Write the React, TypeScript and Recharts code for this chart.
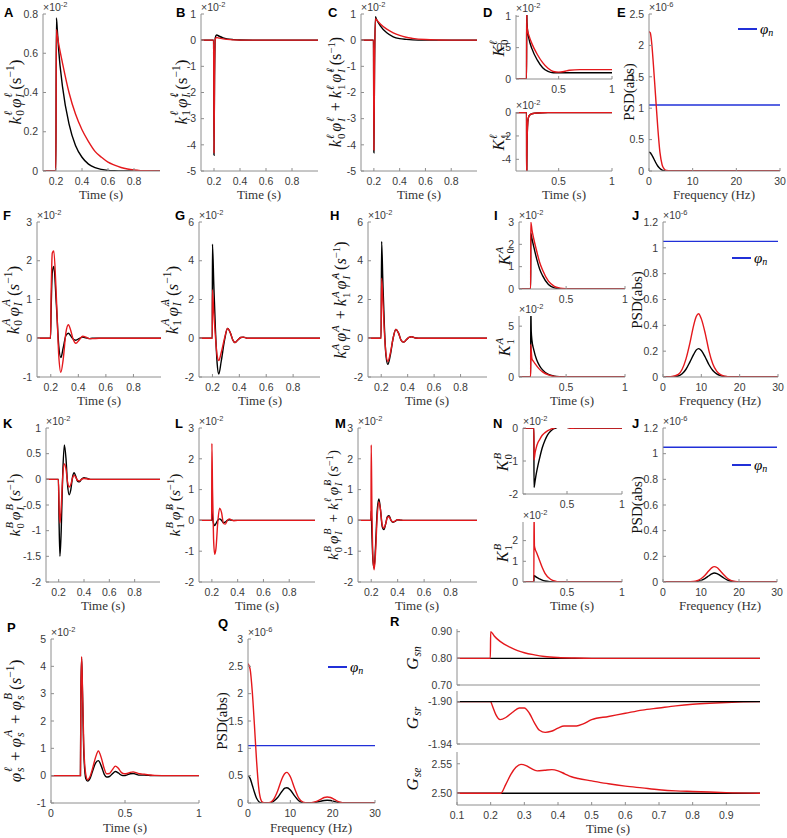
import React from 'react';
import { LineChart, Line, XAxis, YAxis } from 'recharts';

const BLACK = '#000000';
const RED = '#e4181c';
const BLUE = '#2130d8';
const FRAME = '#8e8e8e';
const TICK_TXT = '#3a3a3a';

// ---------- row 1 : l-pathway ----------
const tA = [0.1, 0.199, 0.203, 0.21, 0.22, 0.25, 0.3, 0.35, 0.4, 0.45, 0.5, 0.55, 0.6, 0.65, 0.7, 0.75, 0.8, 0.85, 0.9, 1.0];
const aBlack = [0, 0, 0.78, 0.72, 0.62, 0.43, 0.24, 0.13, 0.07, 0.035, 0.017, 0.008, 0.003, 0.001, 0, 0, 0, 0, 0, 0];
const aRed = [0, 0, 0.72, 0.69, 0.65, 0.55, 0.4, 0.29, 0.21, 0.15, 0.1, 0.07, 0.045, 0.03, 0.018, 0.01, 0.005, 0.002, 0.001, 0];

const tB = [0.1, 0.197, 0.2, 0.204, 0.21, 0.22, 0.24, 0.27, 0.3, 0.35, 0.4, 0.5, 1.0];
const bBlack = [0, 0, -4.4, -1.5, 0.1, 0.2, 0.15, 0.09, 0.05, 0.02, 0.005, 0, 0];
const bRed = [0, 0, -4.3, -1.4, 0.05, 0.1, 0.08, 0.05, 0.03, 0.01, 0.003, 0, 0];

const tC = [0.1, 0.197, 0.2, 0.205, 0.212, 0.22, 0.25, 0.3, 0.35, 0.4, 0.45, 0.5, 0.6, 0.7, 0.8, 1.0];
const cBlack = [0, 0, -4.3, -1, 0.9, 0.8, 0.55, 0.28, 0.13, 0.06, 0.03, 0.012, 0.002, 0, 0, 0];
const cRed = [0, 0, -4.2, -1, 0.82, 0.78, 0.62, 0.42, 0.28, 0.18, 0.11, 0.07, 0.025, 0.008, 0.002, 0];

const tD1 = [0.1, 0.199, 0.2, 0.203, 0.21, 0.22, 0.25, 0.3, 0.35, 0.4, 0.45, 0.5, 0.55, 0.6, 0.7, 0.8, 1.0];
const d1Black = [0, 0, 1.2, 0.9, 0.75, 0.65, 0.48, 0.3, 0.18, 0.12, 0.1, 0.1, 0.1, 0.1, 0.1, 0.1, 0.1];
const d1Red = [0, 0, 1.05, 0.85, 0.76, 0.7, 0.56, 0.39, 0.26, 0.17, 0.12, 0.11, 0.12, 0.14, 0.15, 0.15, 0.15];

const tD2 = [0.1, 0.199, 0.2, 0.203, 0.208, 0.215, 0.225, 0.25, 0.3, 0.4, 1.0];
const d2Black = [0, 0, -6, -3, -1.2, -0.5, -0.25, -0.1, -0.03, 0, 0];
const d2Red = [0, 0, -6, -3, -1.2, -0.5, -0.25, -0.1, -0.03, 0, 0];

const fE = [0, 0.3, 0.6, 1.0, 1.5, 2.0, 2.5, 3.0, 3.5, 4.0, 5.0, 10, 20, 30];
const eBlack = [0.3, 0.29, 0.26, 0.21, 0.14, 0.08, 0.04, 0.015, 0.005, 0.001, 0, 0, 0, 0];
const eRed = [2.22, 2.2, 2.05, 1.7, 1.2, 0.7, 0.3, 0.1, 0.03, 0.008, 0, 0, 0, 0];

// noise input level (phi_n), shared by all PSD panels
const fNoise = [0, 30];
const noise = [1.05, 1.05];

// ---------- row 2 : A-pathway ----------
const tF = [0.1, 0.198, 0.203, 0.211, 0.222, 0.24, 0.258, 0.273, 0.29, 0.31, 0.328, 0.345, 0.36, 0.382, 0.405, 0.43, 0.455, 0.48, 0.5, 0.55, 1.0];
const fBlack = [0, 0, 0.8, 1.7, 1.85, 0.9, -0.2, -0.5, -0.25, 0.07, 0.13, 0.06, -0.01, -0.05, -0.01, 0.03, 0.01, -0.01, 0, 0, 0];
const fRed = [0, 0, 1.2, 2.2, 2.25, 1.1, -0.45, -0.88, -0.55, 0.15, 0.35, 0.2, 0, -0.13, -0.05, 0.05, 0.03, -0.01, -0.01, 0, 0];

const tG = [0.1, 0.199, 0.2, 0.21, 0.222, 0.235, 0.247, 0.265, 0.29, 0.312, 0.335, 0.352, 0.368, 0.39, 0.41, 0.43, 0.46, 0.5, 1.0];
const gBlack = [0, 0, 4.85, 2.8, 0.5, -1.3, -1.85, -1.2, -0.1, 0.5, 0.25, -0.1, -0.22, -0.08, 0.04, 0.06, 0, 0, 0];
const gRed = [0, 0, 2.5, 1.3, 0.1, -0.9, -1.15, -0.75, 0, 0.5, 0.25, -0.1, -0.22, -0.08, 0.04, 0.06, 0, 0, 0];

const tH = [0.1, 0.199, 0.203, 0.212, 0.224, 0.236, 0.25, 0.268, 0.29, 0.31, 0.332, 0.35, 0.368, 0.39, 0.41, 0.43, 0.46, 0.5, 1.0];
const hBlack = [0, 0, 5.0, 3.0, 0.6, -0.9, -1.35, -0.9, 0, 0.45, 0.25, -0.1, -0.2, -0.08, 0.05, 0.08, 0.01, 0, 0];
const hRed = [0, 0, 3.1, 2.0, 0.3, -0.8, -1.2, -0.8, 0, 0.45, 0.25, -0.1, -0.2, -0.08, 0.05, 0.08, 0.01, 0, 0];

const tI1 = [0.1, 0.199, 0.2, 0.21, 0.225, 0.25, 0.275, 0.3, 0.35, 0.4, 0.45, 0.5, 0.55, 1.0];
const i1Black = [0, 0, 2.5, 2.25, 1.9, 1.35, 0.9, 0.6, 0.2, 0.05, 0.01, 0, 0, 0];
const i1Red = [0, 0, 3.0, 2.65, 2.25, 1.7, 1.2, 0.85, 0.35, 0.12, 0.04, 0.01, 0, 0];

const tI2 = [0.1, 0.199, 0.2, 0.204, 0.21, 0.225, 0.25, 0.275, 0.3, 0.35, 0.4, 0.45, 0.5, 1.0];
const i2Black = [0, 0, 7, 4.5, 3.6, 2.7, 1.7, 1.1, 0.7, 0.25, 0.08, 0.02, 0, 0];
const i2Red = [0, 0, 3.2, 2.6, 1.8, 1.5, 1.1, 0.75, 0.5, 0.2, 0.06, 0.015, 0, 0];

const fJ = [0, 2, 4, 5, 6, 7, 8, 8.7, 9.3, 10, 11, 12, 13, 14, 15, 16, 18, 20, 30];
const jBlack = [0, 0.001, 0.008, 0.025, 0.06, 0.115, 0.175, 0.21, 0.22, 0.205, 0.155, 0.095, 0.05, 0.024, 0.011, 0.005, 0.001, 0, 0];
const jRed = [0, 0.002, 0.02, 0.06, 0.14, 0.26, 0.4, 0.47, 0.49, 0.45, 0.34, 0.2, 0.1, 0.045, 0.018, 0.007, 0.001, 0, 0];

// ---------- row 3 : B-pathway ----------
const tK = [0.1, 0.198, 0.203, 0.21, 0.22, 0.232, 0.245, 0.258, 0.27, 0.283, 0.296, 0.31, 0.322, 0.335, 0.35, 0.365, 0.38, 0.4, 0.42, 0.45, 0.5, 1.0];
const kBlack = [0, 0, -0.8, -1.5, -1.0, 0.1, 0.67, 0.4, -0.1, -0.3, -0.2, 0.05, 0.13, 0.06, -0.04, -0.05, 0, 0.03, 0.02, 0, 0, 0];
const kRed = [0, 0, -0.5, -0.85, -0.55, 0.05, 0.3, 0.2, -0.05, -0.15, -0.1, 0.03, 0.08, 0.04, -0.02, -0.03, 0, 0.015, 0.01, 0, 0, 0];

const tL = [0.1, 0.198, 0.2, 0.205, 0.213, 0.222, 0.232, 0.245, 0.26, 0.275, 0.29, 0.305, 0.32, 0.335, 0.35, 0.37, 0.4, 0.45, 1.0];
const lBlack = [0, 0, 0.3, 0.1, -0.1, -0.17, -0.1, 0, 0.05, 0, -0.08, -0.05, 0, 0.02, 0.01, 0, 0, 0, 0];
const lRed = [0, 0, 2.5, 1.0, -0.6, -1.1, -0.9, -0.1, 0.4, 0.25, -0.1, -0.12, 0, 0.05, 0.02, -0.01, 0, 0, 0];

const tM = [0.1, 0.198, 0.2, 0.205, 0.213, 0.222, 0.232, 0.245, 0.258, 0.27, 0.283, 0.296, 0.31, 0.322, 0.335, 0.35, 0.365, 0.38, 0.4, 0.42, 0.45, 1.0];
const mBlack = [0, 0, 0.3, -0.4, -1.3, -1.55, -0.9, 0.3, 0.7, 0.35, -0.2, -0.3, -0.1, 0.12, 0.15, 0, -0.06, -0.03, 0.02, 0.01, 0, 0];
const mRed = [0, 0, 2.45, 0.5, -1.2, -1.6, -1.1, 0.1, 0.6, 0.35, -0.15, -0.25, -0.1, 0.1, 0.12, 0, -0.05, -0.02, 0.02, 0.01, 0, 0];

const tN1 = [0.1, 0.199, 0.2, 0.21, 0.22, 0.235, 0.25, 0.275, 0.3, 0.325, 0.35, 0.375, 0.4, 0.43, 0.46, 0.5, 0.55, 0.6, 1.0];
const n1Black = [0, 0, -1.8, -1.6, -1.4, -1.15, -0.93, -0.6, -0.37, -0.2, -0.1, -0.03, 0, 0.04, 0.04, 0.02, -0.01, 0, 0];
const n1Red = [0, 0, -0.97, -0.75, -0.6, -0.45, -0.36, -0.22, -0.14, -0.08, -0.04, -0.01, 0.02, 0.04, 0.04, 0.02, -0.01, 0, 0];

const tN2 = [0.1, 0.199, 0.2, 0.204, 0.21, 0.225, 0.25, 0.275, 0.3, 0.35, 0.4, 0.45, 1.0];
const n2Black = [0, 0, 0.32, 0.3, 0.28, 0.22, 0.15, 0.09, 0.05, 0.015, 0.003, 0, 0];
const n2Red = [0, 0, 3.5, 1.75, 1.6, 1.4, 1.05, 0.7, 0.42, 0.13, 0.03, 0, 0];

const fJ2 = [0, 5, 8, 9, 10, 11, 12, 12.8, 13.5, 14.2, 15, 16, 17, 18, 19, 20, 22, 30];
const j2Black = [0, 0, 0.002, 0.005, 0.013, 0.027, 0.047, 0.063, 0.07, 0.066, 0.052, 0.031, 0.015, 0.006, 0.002, 0.001, 0, 0];
const j2Red = [0, 0, 0.004, 0.01, 0.025, 0.05, 0.085, 0.11, 0.12, 0.113, 0.09, 0.056, 0.027, 0.011, 0.004, 0.001, 0, 0];

// ---------- row 4 : total, PSD, gains ----------
const tP = [0, 0.199, 0.202, 0.207, 0.213, 0.222, 0.235, 0.248, 0.262, 0.28, 0.3, 0.32, 0.34, 0.36, 0.375, 0.395, 0.415, 0.435, 0.455, 0.475, 0.495, 0.515, 0.535, 0.555, 0.575, 0.6, 0.63, 0.66, 0.7, 0.8, 1.0];
const pBlack = [0, 0, 3.0, 4.3, 3.0, 0.8, -0.1, -0.2, -0.12, 0.15, 0.45, 0.55, 0.35, 0.05, -0.05, -0.03, 0.07, 0.15, 0.1, 0.02, 0, 0.03, 0.07, 0.08, 0.05, 0.02, 0.02, 0.01, 0, 0, 0];
const pRed = [0, 0, 3.0, 4.35, 3.1, 1.0, 0.05, -0.15, -0.05, 0.25, 0.65, 0.9, 0.65, 0.25, 0.07, 0.08, 0.22, 0.35, 0.27, 0.12, 0.07, 0.08, 0.12, 0.14, 0.11, 0.07, 0.05, 0.03, 0.01, 0, 0];

const fQ = [0, 0.5, 1, 1.5, 2, 2.5, 3, 3.5, 4, 5, 6, 7, 8, 8.7, 9.2, 10, 11, 12, 13, 14, 15, 16, 17, 18, 18.7, 19.5, 20.5, 21.5, 23, 30];
const qBlack = [0.5, 0.45, 0.33, 0.2, 0.09, 0.03, 0.005, 0, 0, 0, 0.03, 0.1, 0.21, 0.27, 0.28, 0.24, 0.13, 0.04, 0.005, 0, 0.003, 0.012, 0.03, 0.045, 0.05, 0.045, 0.025, 0.008, 0, 0];
const qRed = [2.55, 2.45, 2.05, 1.45, 0.8, 0.3, 0.07, 0.01, 0, 0.005, 0.06, 0.22, 0.44, 0.54, 0.56, 0.48, 0.27, 0.09, 0.015, 0, 0.006, 0.025, 0.06, 0.1, 0.11, 0.1, 0.06, 0.02, 0, 0];

const tFlat = [0.1, 1.0];
const gsnBase = [0.8, 0.8];
const gsrBase = [-1.9, -1.9];
const gseBase = [2.5, 2.5];

const tR1 = [0.1, 0.199, 0.2, 0.21, 0.22, 0.24, 0.26, 0.28, 0.3, 0.33, 0.36, 0.4, 0.45, 0.5, 1.0];
const gsn = [0.8, 0.8, 0.9, 0.885, 0.872, 0.853, 0.84, 0.829, 0.821, 0.813, 0.807, 0.803, 0.801, 0.8, 0.8];

const tR2 = [0.1, 0.2, 0.205, 0.215, 0.228, 0.245, 0.265, 0.285, 0.3, 0.315, 0.33, 0.345, 0.362, 0.38, 0.4, 0.418, 0.435, 0.455, 0.475, 0.5, 0.55, 0.6, 0.65, 0.7, 0.75, 0.8, 0.85, 0.9, 0.95, 1.0];
const gsr = [-1.9, -1.9, -1.904, -1.912, -1.917, -1.915, -1.91, -1.906, -1.906, -1.911, -1.92, -1.927, -1.929, -1.928, -1.925, -1.923, -1.923, -1.923, -1.921, -1.917, -1.914, -1.911, -1.908, -1.906, -1.904, -1.9025, -1.9015, -1.9008, -1.9003, -1.9];

const tR3 = [0.1, 0.23, 0.245, 0.26, 0.275, 0.29, 0.305, 0.32, 0.338, 0.36, 0.382, 0.4, 0.42, 0.44, 0.46, 0.5, 0.55, 0.6, 0.65, 0.7, 0.75, 0.8, 0.85, 0.9, 1.0];
const gse = [2.5, 2.5, 2.515, 2.532, 2.544, 2.549, 2.547, 2.542, 2.538, 2.539, 2.54, 2.538, 2.533, 2.528, 2.525, 2.521, 2.516, 2.512, 2.509, 2.506, 2.504, 2.503, 2.502, 2.501, 2.5];

// tick sets
const timeTicks = [0.2, 0.4, 0.6, 0.8];
const timeTicksSmall = [0.5, 1];
const freqTicks = [0, 10, 20, 30];
const rTimeTicks = [0.1, 0.2, 0.3, 0.4, 0.5, 0.6, 0.7, 0.8, 0.9];

type Series = { xs: number[]; ys: number[]; color: string };
const pts = (xs: number[], ys: number[]) => xs.map((x, i) => ({ x, y: ys[i] }));
const pair = (xs: number[], blk: number[], red: number[]): Series[] => [
  { xs, ys: blk, color: BLACK },
  { xs, ys: red, color: RED },
];

type PanelProps = {
  left: number; top: number; w: number; h: number;
  xDomain: [number, number]; xTicks: number[];
  yDomain: [number, number]; yTicks: number[];
  series: Series[];
  xLabels?: boolean; fmt?: (v: number) => string; padB?: number;
};

const tickFont = { fontSize: 10.5, fill: TICK_TXT, fontFamily: '"Liberation Sans", Arial, sans-serif' };

function Panel({ left, top, w, h, xDomain, xTicks, yDomain, yTicks, series, xLabels = true, fmt = (v) => String(v), padB = 22 }: PanelProps) {
  const padL = 40, padT = 6, padR = 12;
  return (
    <div style={{ position: 'absolute', left: left - padL, top: top - padT }}>
      <LineChart width={w + padL + padR} height={h + padT + padB} margin={{ top: padT, right: padR, bottom: 0, left: 0 }}>
        <XAxis xAxisId="b" type="number" dataKey="x" domain={xDomain} ticks={xTicks} allowDataOverflow interval={0}
          height={padB} stroke={FRAME} tickSize={-3} tickMargin={10} tick={xLabels ? tickFont : false} tickFormatter={(v) => String(v)} />
        <XAxis xAxisId="t" orientation="top" type="number" dataKey="x" domain={xDomain} ticks={xTicks} allowDataOverflow interval={0}
          height={0} stroke={FRAME} tickSize={-3} tick={false} />
        <YAxis yAxisId="l" type="number" domain={yDomain} ticks={yTicks} allowDataOverflow interval={0}
          width={padL} stroke={FRAME} tickSize={-3} tickMargin={8} tick={tickFont} tickFormatter={fmt} />
        <YAxis yAxisId="r" orientation="right" type="number" domain={yDomain} ticks={yTicks} allowDataOverflow interval={0}
          width={0} stroke={FRAME} tickSize={-3} tick={false} />
        {series.map((s, i) => (
          <Line key={i} xAxisId="b" yAxisId="l" data={pts(s.xs, s.ys)} dataKey="y" type="monotone"
            stroke={s.color} strokeWidth={1.4} dot={false} activeDot={false} isAnimationActive={false} />
        ))}
      </LineChart>
    </div>
  );
}

// ---------- text helpers ----------
const SERIF = '"Liberation Serif", "DejaVu Serif", serif';
const SANS = '"Liberation Sans", Arial, sans-serif';

function T({ b, sub, sup, dot }: { b: string; sub?: string; sup?: string; dot?: boolean }) {
  const st = (s?: string): React.CSSProperties => ({
    fontStyle: s && /^[0-9]$/.test(s) ? 'normal' : 'italic', height: '1.05em', display: 'block',
  });
  return (
    <span style={{ display: 'inline-flex', alignItems: 'center', marginRight: 2 }}>
      <span style={{ fontStyle: 'italic' }}>{b}{dot ? '\u0307' : ''}</span>
      <span style={{ display: 'inline-flex', flexDirection: 'column', fontSize: '0.68em', lineHeight: 1.05, marginLeft: 1 }}>
        {sup ? <span style={st(sup)}>{sup}</span> : <span style={st()} />}
        {sub ? <span style={st(sub)}>{sub}</span> : <span style={st()} />}
      </span>
    </span>
  );
}

const Inv = ({ ital }: { ital?: boolean }) => (
  <span style={{ marginLeft: 1 }}>(<span style={{ fontStyle: ital ? 'italic' : 'normal' }}>s</span><span style={{ fontSize: '0.68em', position: 'relative', top: '-0.55em' }}>−1</span>)</span>
);
const Plus = () => <span style={{ margin: '0 4px' }}>+</span>;

function YL({ cx, cy, size = 16, children }: { cx: number; cy: number; size?: number; children: React.ReactNode }) {
  return (
    <div style={{ position: 'absolute', left: cx, top: cy, transform: 'translate(-50%, -50%) rotate(-90deg)', whiteSpace: 'nowrap',
      fontFamily: SERIF, fontSize: size, color: '#111', display: 'flex', alignItems: 'center', lineHeight: 1 }}>
      {children}
    </div>
  );
}

function XL({ cx, cy, text }: { cx: number; cy: number; text: string }) {
  return (
    <div style={{ position: 'absolute', left: cx, top: cy, transform: 'translate(-50%, -50%)', whiteSpace: 'nowrap',
      fontFamily: SERIF, fontWeight: 'normal', fontSize: 13, lineHeight: '12px', color: '#333' }}>{text}</div>
  );
}

function Letter({ x, y, c }: { x: number; y: number; c: string }) {
  return <div style={{ position: 'absolute', left: x, top: y, fontFamily: SANS, fontWeight: 'bold', fontSize: 13, lineHeight: '13px', color: '#000' }}>{c}</div>;
}

function Exp({ x, y, e }: { x: number; y: number; e: string }) {
  return (
    <div style={{ position: 'absolute', left: x, top: y - 13, fontFamily: SANS, fontSize: 10.5, lineHeight: '12px', color: TICK_TXT, whiteSpace: 'nowrap' }}>
      ×10<span style={{ fontSize: 7.5, position: 'relative', top: -4 }}>{e}</span>
    </div>
  );
}

function Legend({ x, y }: { x: number; y: number }) {
  return (
    <div style={{ position: 'absolute', left: x, top: y - 9, height: 18, display: 'flex', alignItems: 'center', fontFamily: SERIF, fontSize: 15 }}>
      <span style={{ display: 'inline-block', width: 19, height: 1.5, background: BLUE, marginRight: 3 }} />
      <span style={{ fontStyle: 'italic' }}>φ</span>
      <span style={{ fontStyle: 'italic', fontSize: 10, position: 'relative', top: 3 }}>n</span>
    </div>
  );
}

const fmt2 = (v: number) => v.toFixed(2);
const psdSeries = (f: number[], blk: number[], red: number[]): Series[] => [
  { xs: fNoise, ys: noise, color: BLUE },
  { xs: f, ys: blk, color: BLACK },
  { xs: f, ys: red, color: RED },
];

export default function App() {
  const tD: [number, number] = [0.1, 1];
  const fD: [number, number] = [0, 30];
  return (
    <div style={{ position: 'absolute', left: 0, top: 0, width: 787, height: 838, background: '#fff', overflow: 'hidden' }}>
      {/* row 1 */}
      <Panel left={43} top={14} w={117} h={157} xDomain={tD} xTicks={timeTicks} yDomain={[0, 0.8]} yTicks={[0, 0.2, 0.4, 0.6, 0.8]} series={pair(tA, aBlack, aRed)} />
      <Panel left={201} top={14} w={117} h={157} xDomain={tD} xTicks={timeTicks} yDomain={[-5, 1]} yTicks={[-5, -4, -3, -2, -1, 0, 1]} series={pair(tB, bBlack, bRed)} />
      <Panel left={361} top={14} w={116} h={157} xDomain={tD} xTicks={timeTicks} yDomain={[-5, 1]} yTicks={[-5, -4, -3, -2, -1, 0, 1]} series={pair(tC, cBlack, cRed)} />
      <Panel left={516} top={15} w={96} h={64} xDomain={tD} xTicks={timeTicksSmall} yDomain={[0, 1.02]} yTicks={[0, 0.5, 1]} series={pair(tD1, d1Black, d1Red)} />
      <Panel left={516} top={112} w={96} h={59} xDomain={tD} xTicks={timeTicksSmall} yDomain={[-5, 0.05]} yTicks={[-4, -2, 0]} series={pair(tD2, d2Black, d2Red)} />
      <Panel left={649} top={14} w={131} h={157} xDomain={fD} xTicks={freqTicks} yDomain={[0, 2.5]} yTicks={[0, 0.5, 1, 1.5, 2, 2.5]} series={psdSeries(fE, eBlack, eRed)} />

      {/* row 2 */}
      <Panel left={37} top={222} w={124} h={155} xDomain={tD} xTicks={timeTicks} yDomain={[-1, 3]} yTicks={[-1, 0, 1, 2, 3]} series={pair(tF, fBlack, fRed)} />
      <Panel left={199} top={222} w={121} h={155} xDomain={tD} xTicks={timeTicks} yDomain={[-2, 6]} yTicks={[-2, 0, 2, 4, 6]} series={pair(tG, gBlack, gRed)} />
      <Panel left={368} top={222} w={119} h={155} xDomain={tD} xTicks={timeTicks} yDomain={[-2, 6]} yTicks={[-2, 0, 2, 4, 6]} series={pair(tH, hBlack, hRed)} />
      <Panel left={519} top={222} w={106} h={67} xDomain={tD} xTicks={timeTicksSmall} yDomain={[0, 3]} yTicks={[0, 1, 2, 3]} series={pair(tI1, i1Black, i1Red)} />
      <Panel left={519} top={316} w={106} h={61} xDomain={tD} xTicks={timeTicksSmall} yDomain={[0, 6]} yTicks={[0, 5]} series={pair(tI2, i2Black, i2Red)} />
      <Panel left={663} top={222} w={115} h={155} xDomain={fD} xTicks={freqTicks} yDomain={[0, 1.2]} yTicks={[0, 0.2, 0.4, 0.6, 0.8, 1, 1.2]} series={psdSeries(fJ, jBlack, jRed)} />

      {/* row 3 */}
      <Panel left={46} top={428} w={114} h={154} xDomain={tD} xTicks={timeTicks} yDomain={[-2, 1]} yTicks={[-2, -1.5, -1, -0.5, 0, 0.5, 1]} series={pair(tK, kBlack, kRed)} />
      <Panel left={199} top={428} w={116} h={154} xDomain={tD} xTicks={timeTicks} yDomain={[-2, 3]} yTicks={[-2, -1, 0, 1, 2, 3]} series={pair(tL, lBlack, lRed)} />
      <Panel left={358} top={428} w={119} h={154} xDomain={tD} xTicks={timeTicks} yDomain={[-2, 3]} yTicks={[-2, -1, 0, 1, 2, 3]} series={pair(tM, mBlack, mRed)} />
      <Panel left={523} top={428} w={99} h={66} xDomain={tD} xTicks={timeTicksSmall} yDomain={[-2, 0]} yTicks={[-2, -1, 0]} series={pair(tN1, n1Black, n1Red)} />
      <Panel left={523} top={522} w={99} h={60} xDomain={tD} xTicks={timeTicksSmall} yDomain={[0, 2.9]} yTicks={[0, 1, 2]} series={pair(tN2, n2Black, n2Red)} />
      <Panel left={663} top={428} w={114} h={154} xDomain={fD} xTicks={freqTicks} yDomain={[0, 1.2]} yTicks={[0, 0.2, 0.4, 0.6, 0.8, 1, 1.2]} series={psdSeries(fJ2, j2Black, j2Red)} />

      {/* row 4 */}
      <Panel left={51} top={639} w={148} h={164} xDomain={[0, 1]} xTicks={[0, 0.5, 1]} yDomain={[-1, 5]} yTicks={[-1, 0, 1, 2, 3, 4, 5]} series={pair(tP, pBlack, pRed)} />
      <Panel left={248} top={639} w={127} h={164} xDomain={fD} xTicks={freqTicks} yDomain={[0, 3]} yTicks={[0, 0.5, 1, 1.5, 2, 2.5, 3]} series={psdSeries(fQ, qBlack, qRed)} />
      <Panel left={457} top={629} w={303} h={56} xDomain={tD} xTicks={rTimeTicks} yDomain={[0.7, 0.91]} yTicks={[0.7, 0.8, 0.9]} fmt={fmt2} xLabels={false} padB={8}
        series={[{ xs: tFlat, ys: gsnBase, color: BLACK }, { xs: tR1, ys: gsn, color: RED }]} />
      <Panel left={457} top={691} w={303} h={53} xDomain={tD} xTicks={rTimeTicks} yDomain={[-1.94, -1.89]} yTicks={[-1.94, -1.9]} fmt={fmt2} xLabels={false} padB={8}
        series={[{ xs: tR2, ys: gsr, color: RED }, { xs: tFlat, ys: gsrBase, color: BLACK }]} />
      <Panel left={457} top={752} w={303} h={53} xDomain={tD} xTicks={rTimeTicks} yDomain={[2.48, 2.57]} yTicks={[2.5, 2.55]} fmt={fmt2}
        series={[{ xs: tFlat, ys: gseBase, color: BLACK }, { xs: tR3, ys: gse, color: RED }]} />

      {/* panel letters */}
      <Letter x={4} y={6} c="A" /><Letter x={176} y={6} c="B" /><Letter x={328} y={6} c="C" /><Letter x={483} y={6} c="D" /><Letter x={617} y={6} c="E" />
      <Letter x={3} y={209} c="F" /><Letter x={175} y={209} c="G" /><Letter x={330} y={209} c="H" /><Letter x={494} y={209} c="I" /><Letter x={632} y={209} c="J" />
      <Letter x={3} y={417} c="K" /><Letter x={175} y={417} c="L" /><Letter x={335} y={417} c="M" /><Letter x={493} y={417} c="N" /><Letter x={632} y={417} c="J" />
      <Letter x={7} y={621} c="P" /><Letter x={218} y={617} c="Q" /><Letter x={390} y={615} c="R" />

      {/* exponent notes */}
      <Exp x={43} y={14} e="-2" /><Exp x={201} y={14} e="-2" /><Exp x={361} y={14} e="-2" /><Exp x={516} y={15} e="-2" /><Exp x={516} y={112} e="-2" /><Exp x={649} y={14} e="-6" />
      <Exp x={37} y={222} e="-2" /><Exp x={199} y={222} e="-2" /><Exp x={368} y={222} e="-2" /><Exp x={519} y={222} e="-2" /><Exp x={519} y={316} e="-2" /><Exp x={663} y={222} e="-6" />
      <Exp x={46} y={428} e="-2" /><Exp x={199} y={428} e="-2" /><Exp x={358} y={428} e="-2" /><Exp x={523} y={428} e="-2" /><Exp x={523} y={522} e="-2" /><Exp x={663} y={428} e="-6" />
      <Exp x={51} y={639} e="-2" /><Exp x={248} y={639} e="-6" />

      {/* legends */}
      <Legend x={738} y={29} /><Legend x={732} y={258} /><Legend x={732} y={465} /><Legend x={328} y={667} />

      {/* x titles */}
      <XL cx={101} cy={195} text="Time (s)" /><XL cx={259} cy={195} text="Time (s)" /><XL cx={419} cy={195} text="Time (s)" /><XL cx={564} cy={195} text="Time (s)" /><XL cx={714} cy={195} text="Frequency (Hz)" />
      <XL cx={99} cy={401} text="Time (s)" /><XL cx={260} cy={401} text="Time (s)" /><XL cx={427} cy={401} text="Time (s)" /><XL cx={572} cy={401} text="Time (s)" /><XL cx={720} cy={401} text="Frequency (Hz)" />
      <XL cx={103} cy={606} text="Time (s)" /><XL cx={257} cy={606} text="Time (s)" /><XL cx={417} cy={606} text="Time (s)" /><XL cx={572} cy={606} text="Time (s)" /><XL cx={720} cy={606} text="Frequency (Hz)" />
      <XL cx={125} cy={828} text="Time (s)" /><XL cx={311} cy={828} text="Frequency (Hz)" /><XL cx={608} cy={829} text="Time (s)" />

      {/* y titles */}
      <YL cx={15} cy={92} size={17}><T b="k" sub="0" sup="ℓ" /><T b="φ" sub="I" sup="ℓ" /><Inv /></YL>
      <YL cx={181} cy={92} size={17}><T b="k" sub="1" sup="ℓ" /><T b="φ" sub="I" sup="ℓ" dot /><Inv /></YL>
      <YL cx={336} cy={92}><T b="k" sub="0" sup="ℓ" /><T b="φ" sub="I" sup="ℓ" /><Plus /><T b="k" sub="1" sup="ℓ" /><T b="φ" sub="I" sup="ℓ" dot /><Inv /></YL>
      <YL cx={499} cy={47}><T b="K" sub="0" sup="ℓ" /></YL>
      <YL cx={499} cy={141}><T b="K" sub="1" sup="ℓ" /></YL>
      <YL cx={629} cy={92} size={15}>PSD(abs)</YL>

      <YL cx={13} cy={300} size={17}><T b="k" sub="0" sup="A" /><T b="φ" sub="I" sup="A" /><Inv ital /></YL>
      <YL cx={172} cy={300} size={17}><T b="k" sub="1" sup="A" /><T b="φ" sub="I" sup="A" dot /><Inv ital /></YL>
      <YL cx={341} cy={300}><T b="k" sub="0" sup="A" /><T b="φ" sub="I" sup="A" /><Plus /><T b="k" sub="1" sup="A" /><T b="φ" sub="I" sup="A" dot /><Inv ital /></YL>
      <YL cx={505} cy={255}><T b="K" sub="0" sup="A" /></YL>
      <YL cx={505} cy={346}><T b="K" sub="1" sup="A" /></YL>
      <YL cx={637} cy={300} size={15}>PSD(abs)</YL>

      <YL cx={15} cy={505} size={15.5}><T b="k" sub="0" sup="B" /><T b="φ" sub="I" sup="B" /><Inv ital /></YL>
      <YL cx={175} cy={505} size={15.5}><T b="k" sub="1" sup="B" /><T b="φ" sub="I" sup="B" dot /><Inv ital /></YL>
      <YL cx={334} cy={505} size={15}><T b="k" sub="0" sup="B" /><T b="φ" sub="I" sup="B" /><Plus /><T b="k" sub="1" sup="ℓ" /><T b="φ" sub="I" sup="B" dot /><Inv ital /></YL>
      <YL cx={503} cy={461}><T b="K" sub="0" sup="B" /></YL>
      <YL cx={503} cy={552}><T b="K" sub="1" sup="B" /></YL>
      <YL cx={637} cy={505} size={15}>PSD(abs)</YL>

      <YL cx={15} cy={721} size={17}><T b="φ" sub="s" sup="ℓ" /><Plus /><T b="φ" sub="s" sup="A" /><Plus /><T b="φ" sub="s" sup="B" /><Inv ital /></YL>
      <YL cx={222} cy={721} size={15}>PSD(abs)</YL>
      <YL cx={412} cy={657} size={17}><T b="G" sub="sn" /></YL>
      <YL cx={412} cy={717} size={17}><T b="G" sub="sr" /></YL>
      <YL cx={412} cy={778} size={17}><T b="G" sub="se" /></YL>
    </div>
  );
}
